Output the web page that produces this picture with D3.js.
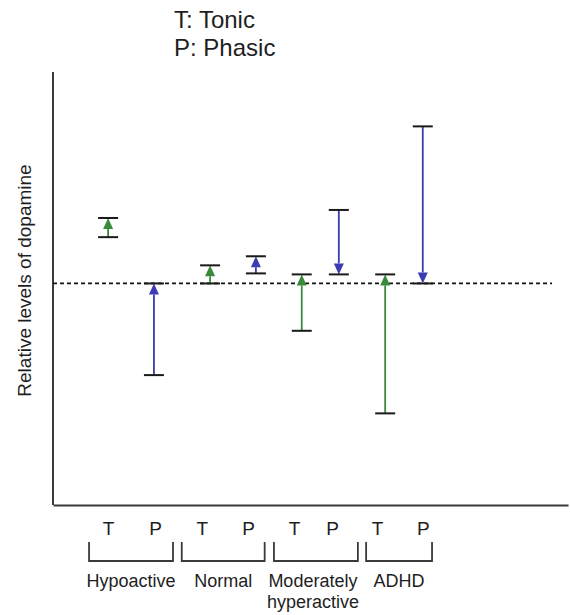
<!DOCTYPE html>
<html>
<head>
<meta charset="utf-8">
<script src="https://cdn.jsdelivr.net/npm/d3@7"></script>
<style>
  html, body { margin: 0; padding: 0; background: #fff; }
  svg { display: block; font-family: "Liberation Sans", Arial, Helvetica, sans-serif; }
</style>
</head>
<body>
<svg id="chart" width="570" height="615"></svg>
<script>
// Tick labels along the bottom and their positions (x units, 0–100)
const tickLabels = ["T", "P", "T", "P", "T", "P", "T", "P"];
const tickPos    = [10.7, 19.8, 28.9, 37.9, 46.8, 54.2, 62.9, 71.8];

// Groups and the x span of each bracket
const groups     = ["Hypoactive", "Normal", "Moderately\nhyperactive", "ADHD"];
const groupStart = [7.0, 25.0, 42.9, 60.8];
const groupEnd   = [23.3, 41.1, 59.2, 73.6];

// Each arrow: where it is placed, its start level and its end level
const barType  = ["T", "P", "T", "P", "T", "P", "T", "P"];
const barPos   = [10.7, 19.6, 30.5, 39.4, 48.3, 55.5, 64.5, 71.8];
const fromVals = [4.6, -9.1, 0.0, 1.0, -4.7, 7.3, -12.9, 15.6];
const toVals   = [6.5, 0.0, 1.8, 2.7, 0.9, 0.9, 0.9, 0.0];

const baseline = 0;   // normal dopamine level (dashed line)

const svg = d3.select("#chart");
const x = d3.scaleLinear().domain([0, 100]).range([53, 568]);
const y = d3.scaleLinear().domain([-22, 21]).range([505, 72]);

const textColor = "#1e1e1e";
const colors = { T: "#3a8a3c", P: "#3b3bb2" };

// Title / key
const key = svg.append("g").attr("fill", textColor).style("font-size", "24px");
key.append("text").attr("x", 174).attr("y", 28).text("T: Tonic");
key.append("text").attr("x", 174).attr("y", 56).text("P: Phasic");

// Y axis line and label
svg.append("line")
  .attr("x1", x(0)).attr("x2", x(0))
  .attr("y1", y(21)).attr("y2", y(-22))
  .attr("stroke", "#3a3a3a").attr("stroke-width", 2);

svg.append("text")
  .attr("transform", `translate(31,${(y(21) + y(-22)) / 2 - 8}) rotate(-90)`)
  .attr("text-anchor", "middle")
  .attr("fill", textColor)
  .style("font-size", "19px")
  .text("Relative levels of dopamine");

// X axis with T / P tick labels
const xAxis = d3.axisBottom(x)
  .tickValues(tickPos)
  .tickFormat((d, i) => tickLabels[i])
  .tickSize(0)
  .tickSizeOuter(0)
  .tickPadding(17);

const gx = svg.append("g")
  .attr("transform", `translate(0,${y(-22)})`)
  .call(xAxis);
gx.select(".domain").attr("stroke", "#3a3a3a").attr("stroke-width", 2);
gx.selectAll(".tick text")
  .attr("fill", textColor)
  .style("font-size", "19px")
  .style("font-family", "'Liberation Sans', Arial, Helvetica, sans-serif");

// Group brackets and names
const bracketTop = 542, bracketBottom = 561;
const brackets = svg.append("g");
groups.forEach((g, i) => {
  const x0 = x(groupStart[i]), x1 = x(groupEnd[i]);
  brackets.append("path")
    .attr("d", `M${x0},${bracketTop}V${bracketBottom}H${x1}V${bracketTop}`)
    .attr("fill", "none")
    .attr("stroke", "#3a3a3a")
    .attr("stroke-width", 1.8);
  const t = brackets.append("text")
    .attr("text-anchor", "middle")
    .attr("fill", textColor)
    .style("font-size", "18px");
  const lines = g.split("\n");
  const cx = (x0 + x1) / 2 + (lines.length > 1 ? -3 : 0);
  lines.forEach((ln, j) => {
    t.append("tspan").attr("x", cx).attr("y", 587 + j * 21).text(ln);
  });
});

// Dashed baseline
svg.append("line")
  .attr("x1", x(0)).attr("x2", 552)
  .attr("y1", y(baseline)).attr("y2", y(baseline))
  .attr("stroke", "#111")
  .attr("stroke-width", 1.8)
  .attr("stroke-dasharray", "4,3");

// Arrows with caps at both ends
const capHalf = 10, headLen = 11, headHalf = 5;
const arrows = svg.append("g");
barPos.forEach((p, i) => {
  const cx = x(p);
  const y0 = y(fromVals[i]), y1 = y(toVals[i]);
  const col = colors[barType[i]];
  const dir = y1 < y0 ? 1 : -1;   // 1 = pointing up
  // shaft
  arrows.append("line")
    .attr("x1", cx).attr("x2", cx)
    .attr("y1", y0).attr("y2", y1 + dir * headLen)
    .attr("stroke", col).attr("stroke-width", 1.8);
  // head
  arrows.append("path")
    .attr("d", `M${cx},${y1}L${cx - headHalf},${y1 + dir * headLen}L${cx + headHalf},${y1 + dir * headLen}Z`)
    .attr("fill", col);
  // caps
  [y0, y1].forEach(yy => {
    arrows.append("line")
      .attr("x1", cx - capHalf).attr("x2", cx + capHalf)
      .attr("y1", yy).attr("y2", yy)
      .attr("stroke", "#1a1a1a").attr("stroke-width", 2);
  });
});
</script>
</body>
</html>
